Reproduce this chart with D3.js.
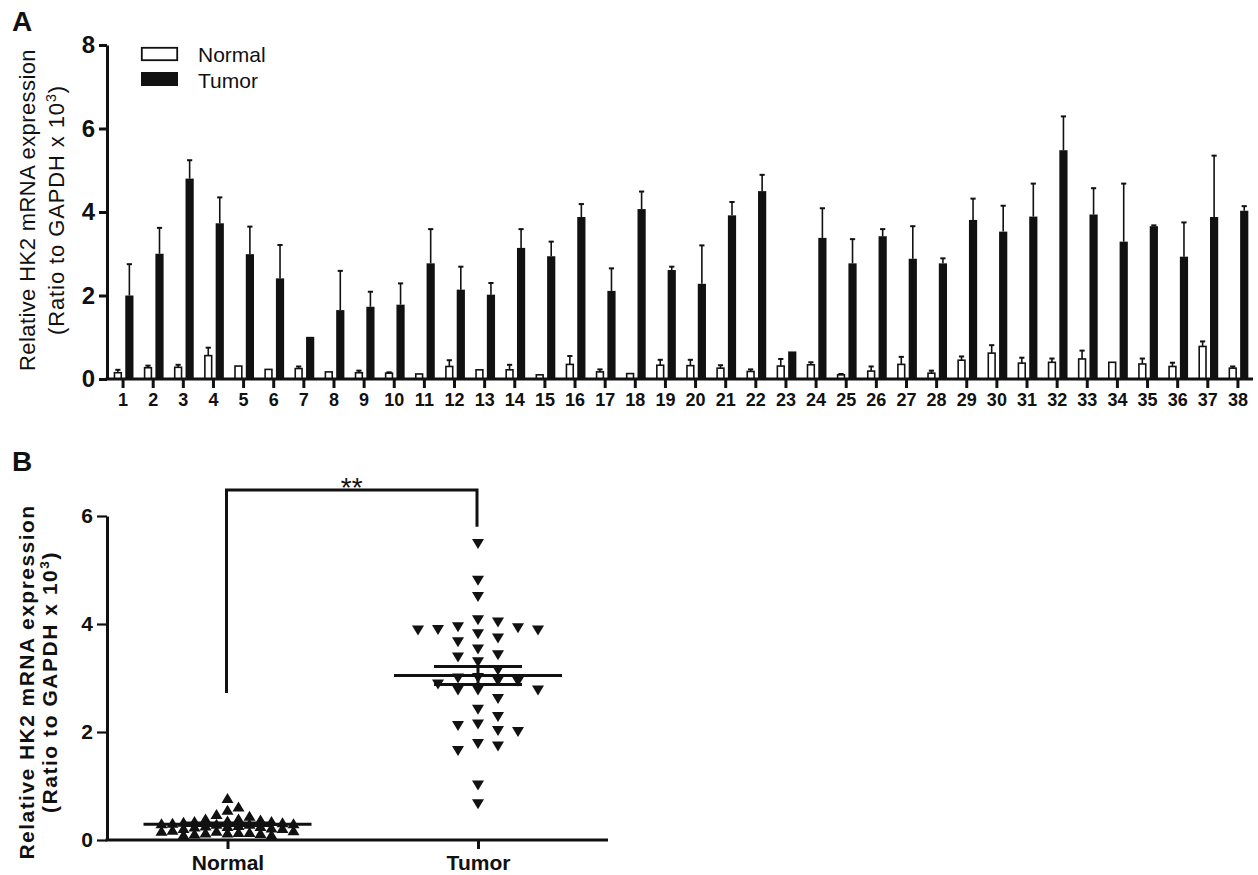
<!DOCTYPE html>
<html><head><meta charset="utf-8">
<script src="https://cdn.jsdelivr.net/npm/d3@7"></script>
<style>body{margin:0;background:#fff} svg{display:block} text{font-family:"Liberation Sans",Arial,Helvetica,sans-serif;fill:#111}</style>
</head><body><svg id="c" width="1258" height="875"></svg>
<script>
// ---------------- data ----------------
const samples = ["1","2","3","4","5","6","7","8","9","10","11","12","13","14","15","16","17","18","19","20",
  "21","22","23","24","25","26","27","28","29","30","31","32","33","34","35","36","37","38"];
const normalMean = [0.15,0.27,0.28,0.56,0.31,0.23,0.25,0.17,0.15,0.14,0.12,0.30,0.22,0.22,0.10,0.35,0.17,0.13,0.33,0.32,
  0.26,0.18,0.31,0.34,0.10,0.19,0.35,0.14,0.45,0.62,0.38,0.40,0.48,0.40,0.36,0.30,0.78,0.26];
const normalErr = [0.07,0.05,0.06,0.19,0.00,0.01,0.05,0.01,0.05,0.02,0.00,0.15,0.00,0.12,0.00,0.20,0.06,0.00,0.13,0.14,
  0.07,0.05,0.17,0.06,0.02,0.11,0.18,0.06,0.09,0.19,0.13,0.09,0.20,0.01,0.13,0.09,0.12,0.04];
const tumorMean = [2.00,3.00,4.80,3.73,2.99,2.41,1.01,1.65,1.73,1.78,2.77,2.14,2.02,3.14,2.94,3.88,2.11,4.07,2.61,2.28,
  3.92,4.50,0.66,3.38,2.77,3.42,2.88,2.77,3.81,3.53,3.89,5.48,3.94,3.29,3.66,2.93,3.88,4.03];
const tumorErr = [0.75,0.62,0.44,0.62,0.66,0.80,0.01,0.94,0.36,0.51,0.82,0.55,0.28,0.45,0.35,0.31,0.54,0.42,0.08,0.92,
  0.32,0.39,0.01,0.71,0.58,0.17,0.78,0.12,0.51,0.62,0.79,0.81,0.63,1.39,0.02,0.82,1.47,0.11];
const yTicksA = [0,2,4,6,8];
const yTicksB = [0,2,4,6];
const groupsB = ["Normal","Tumor"];
const legendLabels = ["Normal","Tumor"];
const bracketLevels = [2.72, 6.48, 5.80];
const bracketLabel = "**";
const yLabel1 = "Relative HK2 mRNA expression";
const yLabel2 = ["(Ratio to GAPDH x 10", "3", ")"];

// ---------------- helpers ----------------
const ink = "#111";
const svg = d3.select("#c");
function fitLabel(t, target){
  const n = t.text().length;
  const len = t.node().getComputedTextLength();
  t.attr("letter-spacing", ((target - len) / n).toFixed(3));
}
function yLabel(g, x1, x2, cy, size, weight, len1, len2){
  const t1 = g.append("text").attr("transform",`translate(${x1},${cy}) rotate(-90)`)
    .attr("text-anchor","middle").attr("font-size",size).attr("font-weight",weight).text(yLabel1);
  fitLabel(t1, len1);
  const t2 = g.append("text").attr("transform",`translate(${x2},${cy}) rotate(-90)`)
    .attr("text-anchor","middle").attr("font-size",size).attr("font-weight",weight);
  t2.append("tspan").text(yLabel2[0]);
  t2.append("tspan").attr("dy",-size*0.38).attr("font-size",size*0.65).text(yLabel2[1]);
  t2.append("tspan").attr("dy",size*0.38).text(yLabel2[2]);
  const len = t2.node().getComputedTextLength();
  const n = yLabel2.join("").length;
  t2.attr("letter-spacing", ((len2 - len)/n).toFixed(3));
}

// ---------------- Panel A ----------------
const yA = d3.scaleLinear().domain([0,8]).range([379,45]);
const xA = d3.scaleBand().domain(samples).range([108,1253]);
const cA = s => xA(s) + xA.bandwidth()/2;
const gA = svg.append("g");

gA.append("text").attr("x",12).attr("y",31).attr("font-size",28).attr("font-weight","bold").text("A");

// normal bars
gA.selectAll(".nb").data(samples).join("rect")
  .attr("x", s => cA(s) - 8.6).attr("width", 6.8)
  .attr("y", (s,i) => yA(normalMean[i])).attr("height", (s,i) => yA(0) - yA(normalMean[i]))
  .attr("fill","#fff").attr("stroke",ink).attr("stroke-width",1.6);
// tumor bars
gA.selectAll(".tb").data(samples).join("rect")
  .attr("x", s => cA(s) + 2.2).attr("width", 8.2)
  .attr("y", (s,i) => yA(tumorMean[i])).attr("height", (s,i) => yA(0) - yA(tumorMean[i]))
  .attr("fill",ink);
// error bars
function errBars(cls, means, errs, dx){
  const d = samples.map((s,i)=>({s, m:means[i], e:errs[i]})).filter(d=>d.e>0.015);
  gA.selectAll("."+cls+"v").data(d).join("line")
    .attr("x1", d=>cA(d.s)+dx).attr("x2", d=>cA(d.s)+dx)
    .attr("y1", d=>yA(d.m)).attr("y2", d=>yA(d.m+d.e))
    .attr("stroke",ink).attr("stroke-width",1.6);
  gA.selectAll("."+cls+"c").data(d).join("line")
    .attr("x1", d=>cA(d.s)+dx-2.6).attr("x2", d=>cA(d.s)+dx+2.6)
    .attr("y1", d=>yA(d.m+d.e)).attr("y2", d=>yA(d.m+d.e))
    .attr("stroke",ink).attr("stroke-width",2);
}
errBars("ne", normalMean, normalErr, -5.2);
errBars("te", tumorMean, tumorErr, 6.3);

// axes
const axYA = gA.append("g").attr("transform","translate(107,0)")
  .call(d3.axisLeft(yA).tickValues(yTicksA).tickFormat(d3.format("d")).tickSize(8).tickSizeOuter(0).tickPadding(4));
axYA.select(".domain").attr("stroke",ink).attr("stroke-width",3);
axYA.selectAll(".tick line").attr("stroke",ink).attr("stroke-width",3);
axYA.selectAll(".tick text").attr("font-size",24).attr("font-weight","bold").attr("fill",ink)
  .attr("font-family",'"Liberation Sans",Arial,sans-serif');

const axXA = gA.append("g").attr("transform",`translate(0,${yA(0)})`)
  .call(d3.axisBottom(xA).tickSize(9).tickSizeOuter(0).tickPadding(5));
axXA.select(".domain").attr("stroke",ink).attr("stroke-width",3).attr("d","M105.5,0H1253");
axXA.selectAll(".tick line").attr("stroke",ink).attr("stroke-width",3);
axXA.selectAll(".tick text").attr("font-size",18).attr("font-weight","bold").attr("fill",ink)
  .attr("font-family",'"Liberation Sans",Arial,sans-serif');

// legend
const lg = gA.append("g");
legendLabels.forEach((lab,i)=>{
  const y0 = i===0 ? 47.8 : 72;
  lg.append("rect").attr("x", i===0?141.8:141).attr("y", y0).attr("width", i===0?35.4:37).attr("height", i===0?12.4:14)
    .attr("fill", i===0?"#fff":ink).attr("stroke", i===0?ink:"none").attr("stroke-width",1.8);
  lg.append("text").attr("x",198).attr("y", i===0?62:88).attr("font-size",21).text(lab);
});

yLabel(gA, 35, 64, 210, 22, "normal", 322, 250);

// ---------------- Panel B ----------------
const gB = svg.append("g");
gB.append("text").attr("x",12).attr("y",471).attr("font-size",28).attr("font-weight","bold").text("B");

const yB = d3.scaleLinear().domain([0,6]).range([840,516]);
const xB = d3.scalePoint().domain(groupsB).range([227.5,478]);

function swarm(values, step, maxCol, minDist){
  const idx = values.map((v,i)=>i).sort((a,b)=>values[b]-values[a]);
  const placed = [];
  const cols = new Array(values.length);
  const order = [0]; for(let k=1;k<=maxCol;k++) order.push(k,-k);
  idx.forEach(i=>{
    const py = yB(values[i]);
    let best = 0, bestD = -1;
    for(const c of order){
      const ds = placed.filter(p=>p.col===c).map(p=>Math.abs(p.py-py));
      const dd = ds.length ? d3.min(ds) : Infinity;
      if(dd >= minDist){ best = c; break; }
      if(dd > bestD){ bestD = dd; best = c; }
    }
    placed.push({col:best, py}); cols[i] = best*step;
  });
  return cols;
}
const triW = 12, triH = 10;
const triDown = `M${-triW/2},${-triH/2}L${triW/2},${-triH/2}L0,${triH/2}Z`;
const triUp = `M${-triW/2},${triH/2}L${triW/2},${triH/2}L0,${-triH/2}Z`;

const offN = swarm(normalMean, 11, 6, 10.5);
const offT = swarm(tumorMean, 20, 3, 10.5);

gB.selectAll(".pn").data(normalMean).join("path")
  .attr("d", triUp).attr("fill", ink)
  .attr("transform", (v,i)=>`translate(${xB("Normal")+offN[i]},${yB(v)})`);
gB.selectAll(".pt").data(tumorMean).join("path")
  .attr("d", triDown).attr("fill", ink)
  .attr("transform", (v,i)=>`translate(${xB("Tumor")+offT[i]},${yB(v)})`);

// mean +/- SEM
function meanSem(values, grp){
  const m = d3.mean(values), s = d3.deviation(values)/Math.sqrt(values.length);
  const x = xB(grp);
  const g = gB.append("g").attr("stroke",ink).attr("stroke-width",3);
  g.append("line").attr("x1",x-84).attr("x2",x+84).attr("y1",yB(m)).attr("y2",yB(m));
  [m-s, m+s].forEach(v=>g.append("line").attr("x1",x-44).attr("x2",x+44).attr("y1",yB(v)).attr("y2",yB(v)));
  g.append("line").attr("x1",x).attr("x2",x).attr("y1",yB(m-s)).attr("y2",yB(m+s));
}
meanSem(normalMean, "Normal");
meanSem(tumorMean, "Tumor");

// axes
const axYB = gB.append("g").attr("transform","translate(107,0)")
  .call(d3.axisLeft(yB).tickValues(yTicksB).tickFormat(d3.format("d")).tickSize(10).tickSizeOuter(0).tickPadding(4));
axYB.select(".domain").attr("stroke",ink).attr("stroke-width",3);
axYB.selectAll(".tick line").attr("stroke",ink).attr("stroke-width",2.2);
axYB.selectAll(".tick text").attr("font-size",21).attr("font-weight","bold").attr("fill",ink)
  .attr("font-family",'"Liberation Sans",Arial,sans-serif');

const axXB = gB.append("g").attr("transform",`translate(0,${yB(0)})`)
  .call(d3.axisBottom(xB).tickSize(9).tickSizeOuter(0).tickPadding(6));
axXB.select(".domain").attr("stroke",ink).attr("stroke-width",3).attr("d","M105.5,0H608");
axXB.selectAll(".tick line").attr("stroke",ink).attr("stroke-width",3);
axXB.selectAll(".tick text").attr("font-size",21).attr("font-weight","bold").attr("fill",ink)
  .attr("font-family",'"Liberation Sans",Arial,sans-serif');

// significance bracket
gB.append("path")
  .attr("d", `M${xB("Normal")-1},${yB(bracketLevels[0])}V${yB(bracketLevels[1])}H${xB("Tumor")-1}V${yB(bracketLevels[2])}`)
  .attr("fill","none").attr("stroke",ink).attr("stroke-width",3);
gB.append("text").attr("x",(xB("Normal")+xB("Tumor"))/2 - 1).attr("y",497).attr("text-anchor","middle")
  .attr("font-size",28).text(bracketLabel);

yLabel(gB, 34, 57, 682, 21, "bold", 355, 262);
</script></body></html>
